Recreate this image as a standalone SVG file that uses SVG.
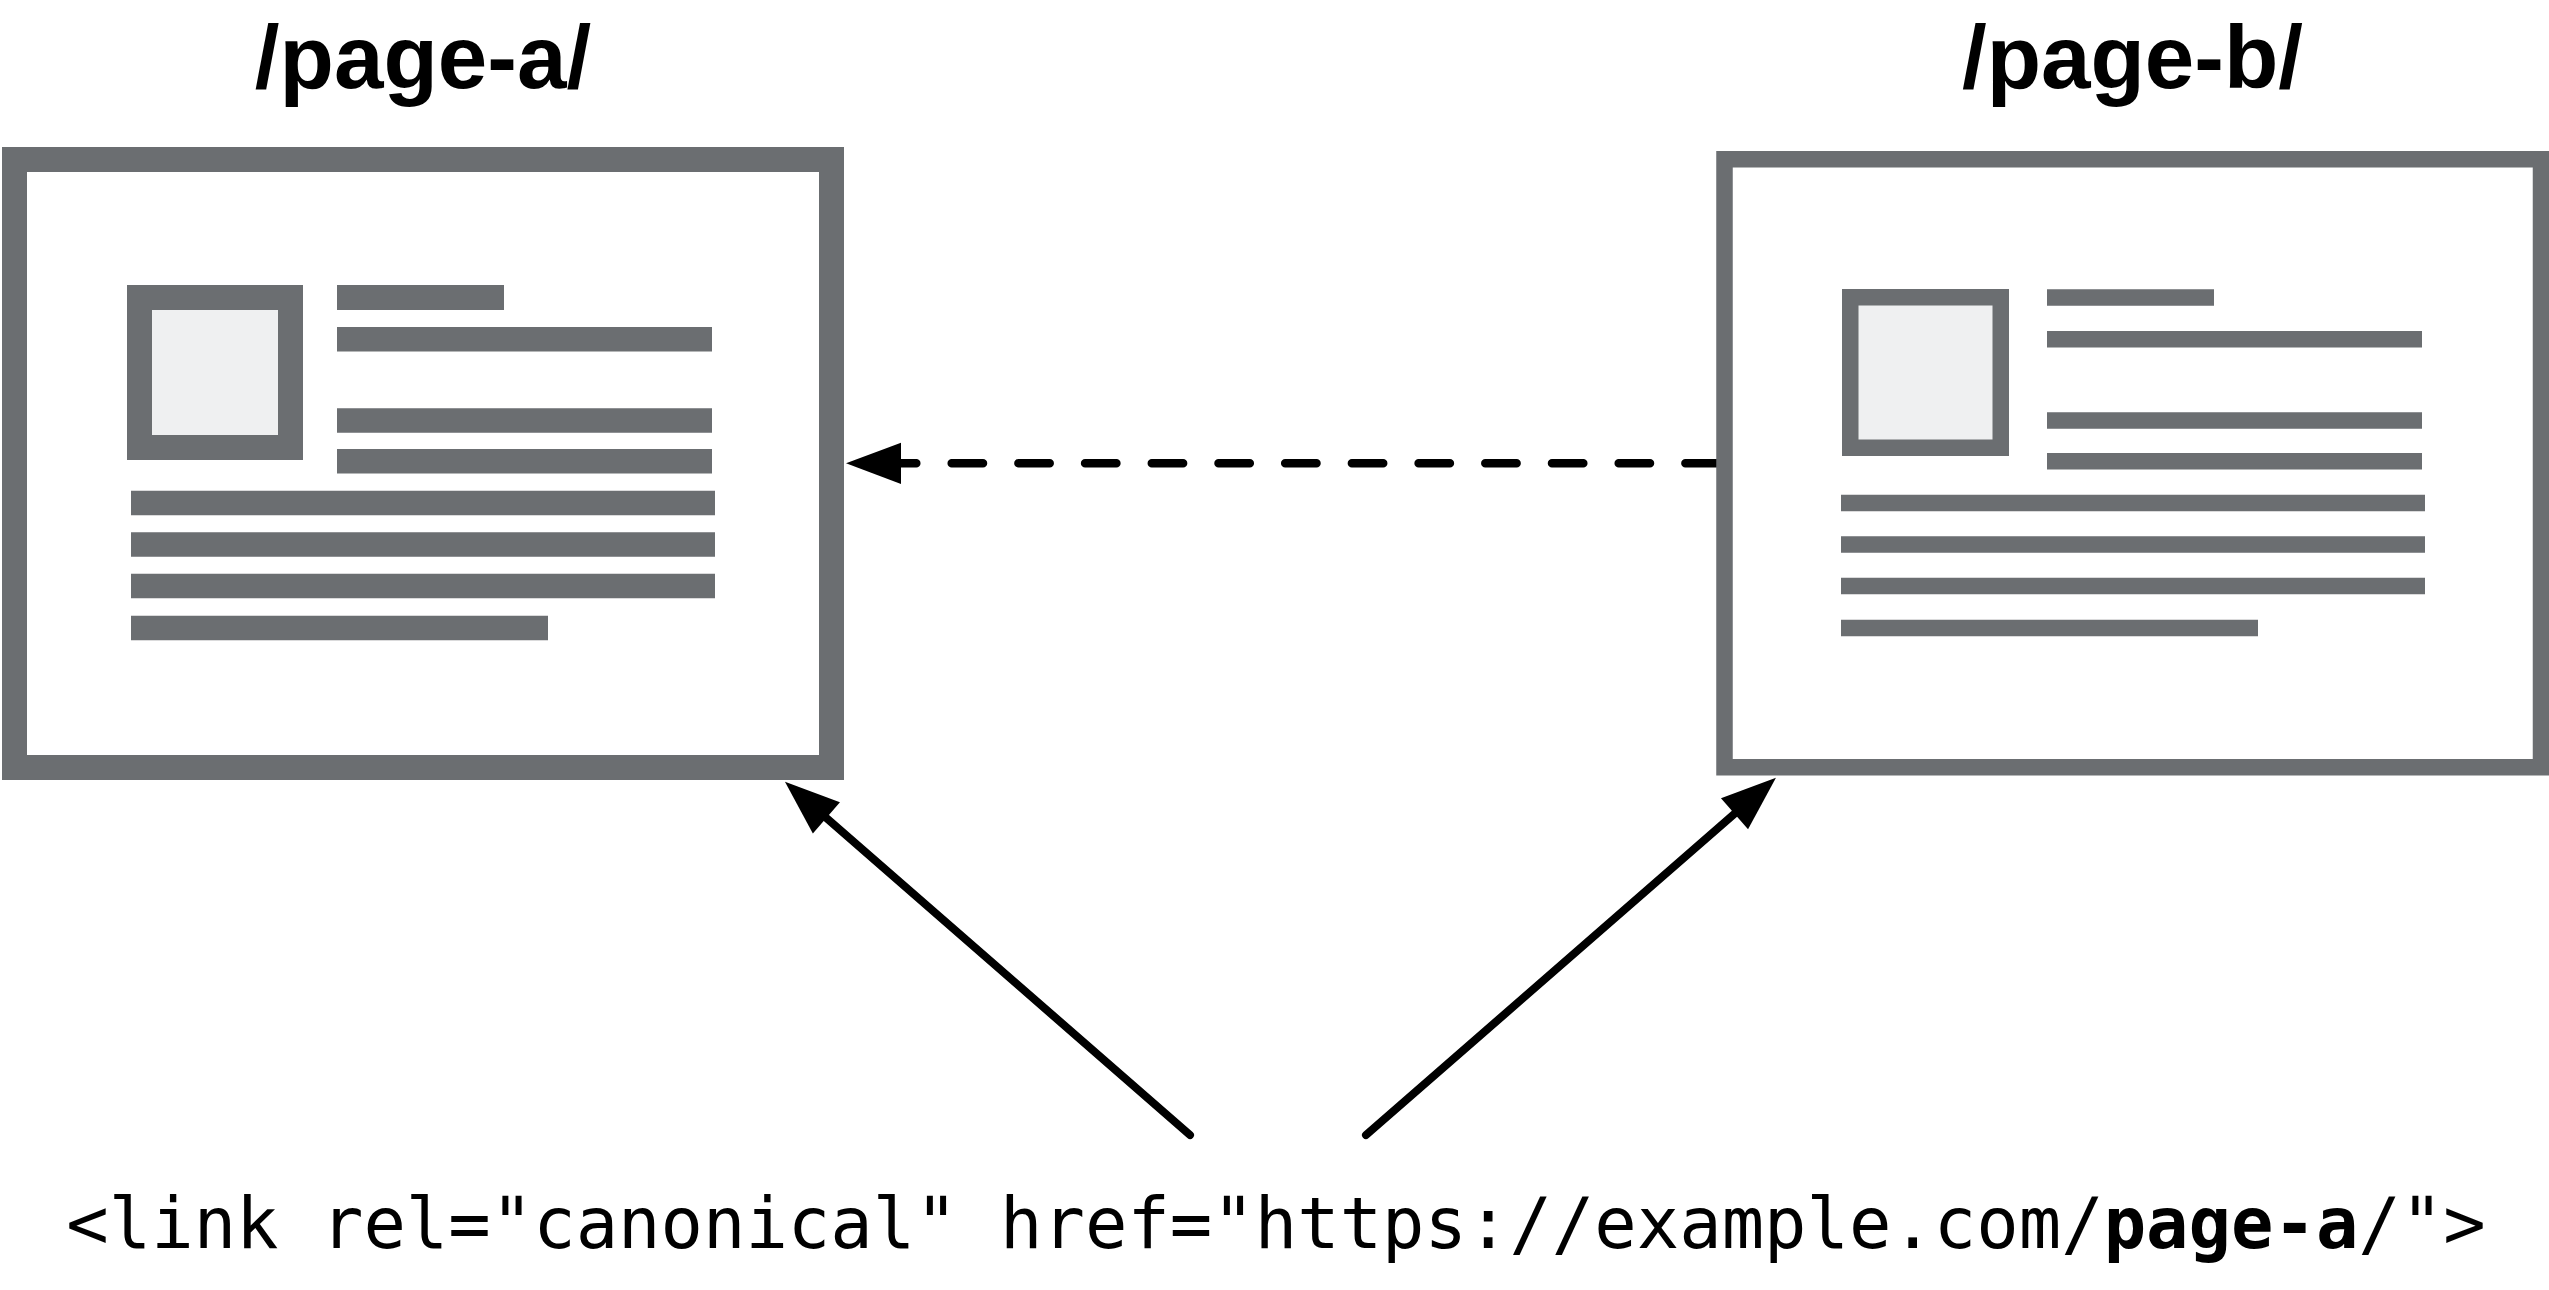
<svg xmlns="http://www.w3.org/2000/svg" width="2549" height="1290" viewBox="0 0 2549 1290">
  <style>
    .frame { fill: #ffffff; stroke: #6b6e71; }
    .img { fill: #eff0f1; stroke: #6b6e71; }
    .bar { fill: #6b6e71; }
    .title { font-family: "Liberation Sans", Arial, sans-serif; font-weight: bold; font-size: 89px; fill: #000; text-anchor: middle; }
    .code { font-family: "DejaVu Sans Mono", "Liberation Mono", monospace; font-size: 70.5px; fill: #000; text-anchor: middle; }
    .conn { fill: none; stroke: #000; stroke-linecap: round; }
    .solid { stroke-width: 8; }
    .dashed { stroke-width: 8.5; stroke-dasharray: 31.3 35.4; }
  </style>
  <defs>
    <marker id="arrow" markerUnits="userSpaceOnUse" viewBox="0 -21 55 42" refX="0" refY="0" markerWidth="55" markerHeight="42" orient="auto" overflow="visible">
      <path d="M0,-20.6 L55,0 L0,20.6 Z" fill="#000"/>
    </marker>
  </defs>
  <rect width="2549" height="1290" fill="#ffffff"/>

  <g id="connectors">
    <path class="conn dashed" d="M1716.7,463.3 L901,463.3" marker-end="url(#arrow)"/>
    <path class="conn solid" d="M1190,1135 L826.4,817.9" marker-end="url(#arrow)"/>
    <path class="conn solid" d="M1366,1135 L1734.5,813.8" marker-end="url(#arrow)"/>
  </g>

  <g id="page-a">
    <text class="title" x="423" y="88">/page-a/</text>
    <rect class="frame" x="14.5" y="159.5" width="817" height="608" stroke-width="25"/>
    <rect class="img" x="139.5" y="297.5" width="151" height="150" stroke-width="25"/>
    <rect class="bar" x="337" y="285" width="167" height="25"/>
    <rect class="bar" x="337" y="327" width="375" height="24.5"/>
    <rect class="bar" x="337" y="408.25" width="375" height="24.5"/>
    <rect class="bar" x="337" y="449" width="375" height="24.5"/>
    <rect class="bar" x="131" y="490.75" width="584" height="24.5"/>
    <rect class="bar" x="131" y="532.25" width="584" height="24.5"/>
    <rect class="bar" x="131" y="573.75" width="584" height="24.5"/>
    <rect class="bar" x="131" y="615.75" width="417" height="24.5"/>
  </g>

  <g id="page-b">
    <text class="title" x="2132.5" y="88">/page-b/</text>
    <rect class="frame" x="1724.5" y="159.25" width="816.5" height="608" stroke-width="16.5"/>
    <rect class="img" x="1850.25" y="297.25" width="150.5" height="150.5" stroke-width="16.5"/>
    <rect class="bar" x="2047" y="289.25" width="167" height="16.5"/>
    <rect class="bar" x="2047" y="331" width="375" height="16.5"/>
    <rect class="bar" x="2047" y="412.25" width="375" height="16.5"/>
    <rect class="bar" x="2047" y="453" width="375" height="16.5"/>
    <rect class="bar" x="1841" y="494.75" width="584" height="16.5"/>
    <rect class="bar" x="1841" y="536.25" width="584" height="16.5"/>
    <rect class="bar" x="1841" y="577.75" width="584" height="16.5"/>
    <rect class="bar" x="1841" y="619.75" width="417" height="16.5"/>
  </g>

  <g id="canonical-tag">
    <text class="code" x="1276" y="1248">&lt;link rel="canonical" href="https://example.com/<tspan font-weight="bold">page-a</tspan>/"&gt;</text>
  </g>
</svg>
